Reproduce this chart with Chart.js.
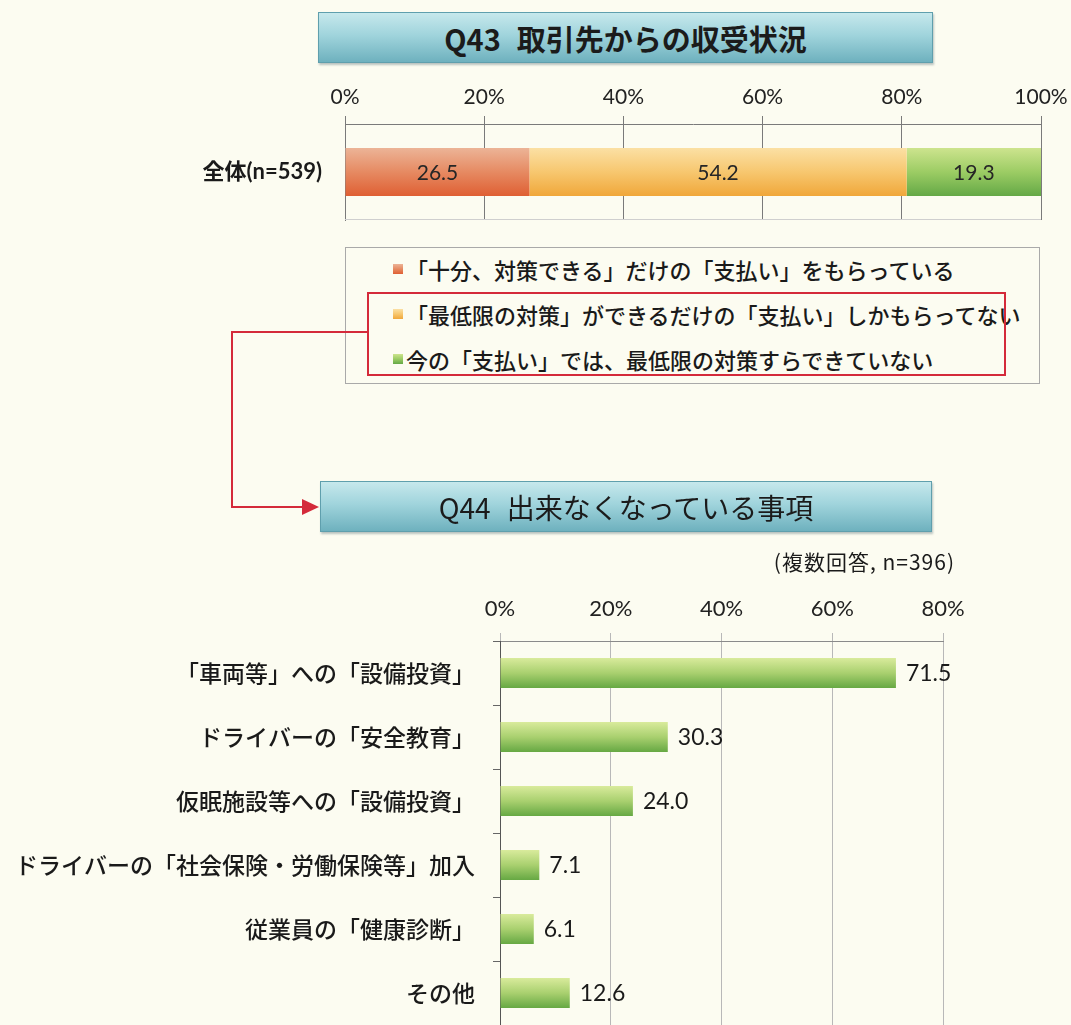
<!DOCTYPE html>
<html lang="ja">
<head>
<meta charset="utf-8">
<title>Q43 取引先からの収受状況 / Q44 出来なくなっている事項</title>
<script src="https://cdn.jsdelivr.net/npm/chart.js@4.4.1/dist/chart.umd.min.js"></script>
<style>
  html, body { margin: 0; padding: 0; }
  body {
    width: 1071px; height: 1025px; overflow: hidden; position: relative;
    background: #fcfcf1; color: #1a1a1a;
    font-family: Lato, 'Noto Sans CJK JP', sans-serif;
  }
  .title {
    position: absolute; box-sizing: border-box; height: 51px;
    border: 1px solid #5f9fad;
    background: linear-gradient(#c6e8ec, #a0d4dc 45%, #6eb1be);
    box-shadow: 1px 2px 2px rgba(60, 90, 100, .35);
    display: flex; align-items: center; justify-content: center;
    font-family: 'Noto Sans CJK JP', sans-serif; font-size: 29px; color: #1b1b1b;
  }
  .title .q { margin-right: 16px; }
  .chart { position: absolute; left: 0; width: 1071px; }
  #legend {
    position: absolute; left: 345px; top: 247px; width: 695px; height: 137px;
    box-sizing: border-box; border: 1.5px solid #a9a9a9;
  }
  .item {
    position: absolute; left: 47px; height: 30px; display: flex; align-items: center;
    font-family: 'Noto Sans CJK JP', sans-serif; font-size: 22px; font-weight: 500;
    white-space: nowrap;
  }
  .item i { display: inline-block; width: 10px; height: 10px; margin-right: 3px; }
  #focus {
    position: absolute; left: 367px; top: 292px; width: 639px; height: 84px;
    box-sizing: border-box; border: 2px solid #d42a3a;
  }
  #note {
    position: absolute; right: 116px; top: 546px; letter-spacing: 1px;
    font-family: 'Noto Sans CJK JP', sans-serif; font-size: 21px; font-weight: 400;
  }
  svg { position: absolute; left: 0; top: 0; }
</style>
</head>
<body>

<div class="title" style="left:318px; top:12px; width:615px; font-weight:700;">
  <span class="q">Q43</span>取引先からの収受状況
</div>
<div class="chart" style="top:70px; height:170px;"><canvas id="q43Chart"></canvas></div>

<div id="legend"></div>
<div id="focus"></div>

<svg width="1071" height="1025">
  <polyline points="367,332 232,332 232,507 304,507" fill="none" stroke="#d42a3a" stroke-width="2"/>
  <polygon points="302,499 319,507 302,515" fill="#d42a3a"/>
</svg>

<div class="title" style="left:320px; top:481px; width:612px; font-weight:400; font-size:28px;">
  <span class="q">Q44</span>出来なくなっている事項
</div>
<div id="note">(複数回答, n=396)</div>
<div class="chart" style="top:580px; height:445px;"><canvas id="q44Chart"></canvas></div>

<script>
// Q43: share of each answer (%), one stacked bar
const q43Categories = ['全体(n=539)'];
const q43Series = [
  '「十分、対策できる」だけの「支払い」をもらっている',
  '「最低限の対策」ができるだけの「支払い」しかもらってない',
  '今の「支払い」では、最低限の対策すらできていない'
];
const q43Values = [26.5, 54.2, 19.3];

// Q44: items that can no longer be done (%), multiple answers
const q44Categories = [
  '「車両等」への「設備投資」',
  'ドライバーの「安全教育」',
  '仮眠施設等への「設備投資」',
  'ドライバーの「社会保険・労働保険等」加入',
  '従業員の「健康診断」',
  'その他'
];
const q44Values = [71.5, 30.3, 24.0, 7.1, 6.1, 12.6];

// gradient stops, top of bar to bottom
const q43Fills = [
  ['#ecb497', '#e68a62', '#df5f33'],
  ['#fbe0a4', '#f7c76f', '#f0a73a'],
  ['#cde48e', '#9ccc64', '#64a846']
];
const q44Fill = ['#d9eb9c', '#a9d06f', '#66a843'];

const jpFont = "'Noto Sans CJK JP', sans-serif";
const numFont = "Lato, 'Noto Sans CJK JP', sans-serif";

function barGradient(stops, thickness) {
  return (c) => {
    const chart = c.chart;
    const y = chart.scales.y;
    if (!chart.chartArea || !y || c.dataIndex === undefined) return stops[1];
    const band = y.height / chart.data.labels.length;
    const mid = y.getPixelForValue(c.dataIndex);
    const half = band * thickness / 2;
    const g = chart.ctx.createLinearGradient(0, mid - half, 0, mid + half);
    stops.forEach((col, i) => g.addColorStop(i / (stops.length - 1), col));
    return g;
  };
}

// fixed axis box sizes, no extra label padding around the plot
function fixWidth(w) {
  return (s) => { s.width = w; s.paddingTop = 0; s.paddingBottom = 0; };
}
function fixHeight(h) {
  return (s) => { s.height = h; s.paddingLeft = 0; s.paddingRight = 0; };
}

// value text on each bar
const valueLabels = {
  id: 'valueLabels',
  afterDatasetsDraw(chart, args, opts) {
    const ctx = chart.ctx;
    ctx.save();
    ctx.font = opts.font;
    ctx.fillStyle = opts.color;
    ctx.textBaseline = 'middle';
    chart.data.datasets.forEach((ds, di) => {
      chart.getDatasetMeta(di).data.forEach((bar, i) => {
        const text = ds.data[i].toFixed(1);
        if (opts.inside) {
          ctx.textAlign = 'center';
          ctx.fillText(text, (bar.x + bar.base) / 2, bar.y + 1);
        } else {
          ctx.textAlign = 'left';
          ctx.fillText(text, bar.x + opts.offset, bar.y + 1);
        }
      });
    });
    ctx.restore();
  }
};

// thin line closing the bottom of the plot
const plotBase = {
  id: 'plotBase',
  beforeDatasetsDraw(chart, args, opts) {
    if (!opts.color) return;
    const {ctx, chartArea: a} = chart;
    ctx.save();
    ctx.strokeStyle = opts.color;
    ctx.lineWidth = 1;
    ctx.beginPath();
    ctx.moveTo(a.left, a.bottom - 0.5);
    ctx.lineTo(a.right, a.bottom - 0.5);
    ctx.stroke();
    ctx.restore();
  }
};

new Chart(document.getElementById('q43Chart'), {
  type: 'bar',
  data: {
    labels: q43Categories,
    datasets: q43Series.map((name, i) => ({
      label: name,
      data: [q43Values[i]],
      backgroundColor: barGradient(q43Fills[i], 0.5),
      borderWidth: 0,
      categoryPercentage: 1,
      barPercentage: 0.5
    }))
  },
  options: {
    indexAxis: 'y',
    responsive: true, maintainAspectRatio: false,
    animation: false, events: [],
    layout: { padding: { left: 0, right: 30, top: 0, bottom: 20 } },
    plugins: {
      legend: { display: false }, tooltip: { enabled: false },
      valueLabels: { inside: true, font: '21px ' + numFont, color: '#262626' },
      plotBase: { color: '#cfcfcf' }
    },
    scales: {
      x: {
        position: 'top', stacked: true, min: 0, max: 100,
        afterFit: fixHeight(54),
        grid: { color: '#7a7a7a', tickLength: 8 },
        border: { color: '#7a7a7a' },
        ticks: { stepSize: 20, padding: 6, color: '#222', font: { family: numFont, size: 21 }, callback: (v) => v + '%' }
      },
      y: {
        stacked: true,
        afterFit: fixWidth(345),
        grid: { display: false, drawTicks: false },
        border: { display: true, color: '#7a7a7a' },
        ticks: { padding: 23, color: '#1a1a1a', font: { family: numFont, size: 22, weight: 'bold' } }
      }
    }
  },
  plugins: [valueLabels, plotBase]
});

new Chart(document.getElementById('q44Chart'), {
  type: 'bar',
  data: {
    labels: q44Categories,
    datasets: [{
      label: 'Q44',
      data: q44Values,
      backgroundColor: barGradient(q44Fill, 0.47),
      borderWidth: 0,
      categoryPercentage: 1,
      barPercentage: 0.47
    }]
  },
  options: {
    indexAxis: 'y',
    responsive: true, maintainAspectRatio: false,
    animation: false, events: [],
    layout: { padding: { left: 0, right: 128, top: 0, bottom: 0 } },
    plugins: {
      legend: { display: false }, tooltip: { enabled: false },
      valueLabels: { inside: false, offset: 10, font: '23px ' + numFont, color: '#1a1a1a' }
    },
    scales: {
      x: {
        position: 'top', min: 0, max: 80,
        afterFit: fixHeight(61),
        grid: { color: '#b8b8b8', tickLength: 8 },
        border: { color: '#8a8a8a' },
        ticks: { stepSize: 20, padding: 11, color: '#222', font: { family: numFont, size: 22 }, callback: (v) => v + '%' }
      },
      y: {
        afterFit: fixWidth(500),
        grid: { drawOnChartArea: false, tickLength: 7, color: '#666' },
        border: { color: '#555' },
        ticks: { padding: 18, color: '#1a1a1a', font: { family: jpFont, size: 23, weight: 500 } }
      }
    }
  },
  plugins: [valueLabels]
});

// HTML legend for Q43, with the same fills as the bars
const legend = document.getElementById('legend');
q43Series.forEach((name, i) => {
  const row = document.createElement('div');
  row.className = 'item';
  row.style.top = (6 + i * 45) + 'px';
  const swatch = document.createElement('i');
  swatch.style.background = 'linear-gradient(' + q43Fills[i].join(',') + ')';
  row.appendChild(swatch);
  row.appendChild(document.createTextNode(name));
  legend.appendChild(row);
});
</script>
</body>
</html>
